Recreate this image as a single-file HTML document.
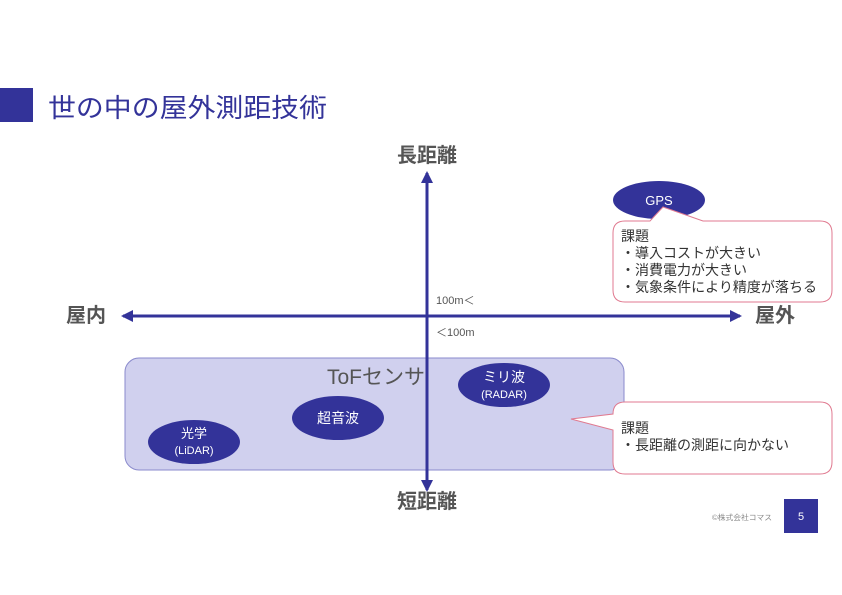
<!DOCTYPE html>
<html><head><meta charset="utf-8"><style>
html,body{margin:0;padding:0;background:#fff;}
svg{display:block;font-family:"Liberation Sans","Noto Sans CJK JP",sans-serif;}
</style></head><body>
<svg width="842" height="595" viewBox="0 0 842 595" xmlns="http://www.w3.org/2000/svg">
<defs>
<marker id="ah" markerWidth="12" markerHeight="12" refX="10" refY="6" orient="auto" markerUnits="userSpaceOnUse" viewBox="0 0 12 12">
<path d="M0,0 L12,6 L0,12 z" fill="#333399"/></marker>
</defs>
<rect x="0" y="88" width="33" height="34" fill="#333399"/>
<text x="48" y="117" font-size="26" fill="#333399" textLength="279" lengthAdjust="spacingAndGlyphs">世の中の屋外測距技術</text>

<rect x="125" y="358" width="499" height="112" rx="14" fill="#d0d0ee" stroke="#8a8acc" stroke-width="1"/>
<text x="327" y="384" font-size="21" fill="#555" textLength="98" lengthAdjust="spacingAndGlyphs">ToFセンサ</text>

<line x1="427" y1="316" x2="427" y2="173" stroke="#333399" stroke-width="3" marker-end="url(#ah)"/>
<line x1="427" y1="316" x2="427" y2="490" stroke="#333399" stroke-width="3" marker-end="url(#ah)"/>
<line x1="427" y1="316" x2="123" y2="316" stroke="#333399" stroke-width="3" marker-end="url(#ah)"/>
<line x1="427" y1="316" x2="740" y2="316" stroke="#333399" stroke-width="3" marker-end="url(#ah)"/>

<text x="427" y="162" font-size="20" font-weight="bold" fill="#555" text-anchor="middle">長距離</text>
<text x="427" y="508" font-size="20" font-weight="bold" fill="#555" text-anchor="middle">短距離</text>
<text x="66" y="322" font-size="20" font-weight="bold" fill="#555">屋内</text>
<text x="755" y="322" font-size="20" font-weight="bold" fill="#555">屋外</text>
<text x="436" y="304" font-size="11" fill="#555">100m＜</text>
<text x="436" y="336" font-size="11" fill="#555">＜100m</text>

<ellipse cx="659" cy="200" rx="46" ry="19" fill="#333399"/>
<text x="659" y="205" font-size="13" fill="#fff" text-anchor="middle">GPS</text>
<path d="M625,221 L650,221 L663,207 L703,221 L820,221 Q832,221 832,233 L832,290 Q832,302 820,302 L625,302 Q613,302 613,290 L613,233 Q613,221 625,221 Z" fill="#fff" stroke="#e07a90" stroke-width="1"/>
<g font-size="14" fill="#333">
<text x="621" y="241">課題</text>
<text x="621" y="258">・導入コストが大きい</text>
<text x="621" y="275">・消費電力が大きい</text>
<text x="621" y="292" textLength="196" lengthAdjust="spacingAndGlyphs">・気象条件により精度が落ちる</text>
</g>

<ellipse cx="194" cy="442" rx="46" ry="22" fill="#333399"/>
<text x="194" y="438" font-size="13" fill="#fff" text-anchor="middle">光学</text>
<text x="194" y="454" font-size="11" fill="#fff" text-anchor="middle">(LiDAR)</text>
<ellipse cx="338" cy="418" rx="46" ry="22" fill="#333399"/>
<text x="338" y="423" font-size="14" fill="#fff" text-anchor="middle">超音波</text>
<ellipse cx="504" cy="385" rx="46" ry="22" fill="#333399"/>
<text x="504" y="382" font-size="14" fill="#fff" text-anchor="middle">ミリ波</text>
<text x="504" y="398" font-size="11" fill="#fff" text-anchor="middle">(RADAR)</text>

<path d="M625,402 L820,402 Q832,402 832,414 L832,462 Q832,474 820,474 L625,474 Q613,474 613,462 L613,430 L571,419 L613,414 Q613,402 625,402 Z" fill="#fff" stroke="#e07a90" stroke-width="1"/>
<g font-size="14" fill="#333">
<text x="621" y="433">課題</text>
<text x="621" y="450">・長距離の測距に向かない</text>
</g>

<text x="712" y="520" font-size="7.5" fill="#888" textLength="60" lengthAdjust="spacingAndGlyphs">©株式会社コマス</text>
<rect x="784" y="499" width="34" height="34" fill="#333399"/>
<text x="801" y="520" font-size="11" fill="#fff" text-anchor="middle">5</text>
</svg>
</body></html>
